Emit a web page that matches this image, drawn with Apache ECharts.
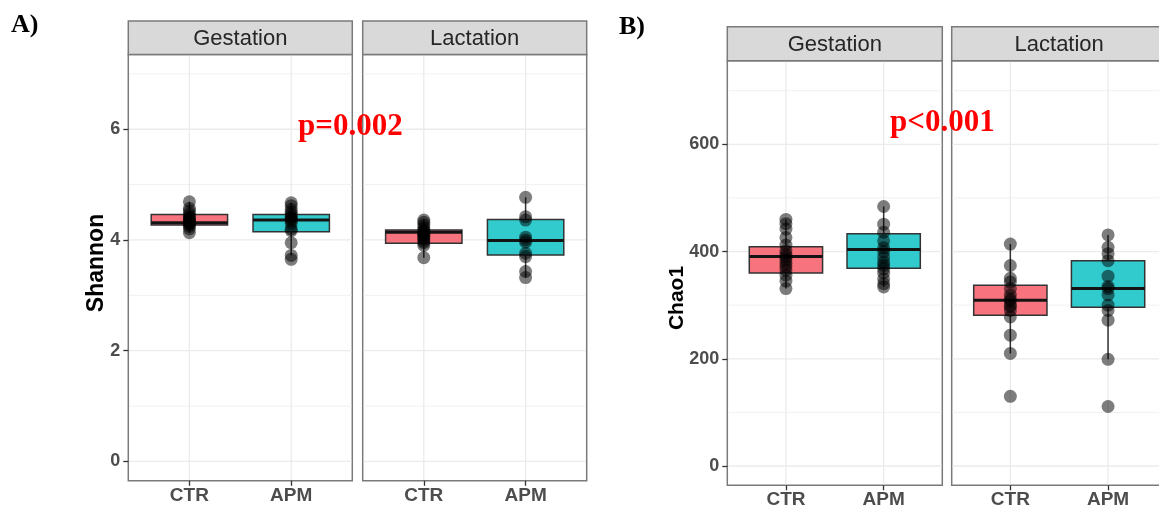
<!DOCTYPE html>
<html>
<head>
<meta charset="utf-8">
<script src="https://cdn.jsdelivr.net/npm/echarts@6/dist/echarts.min.js"></script>
<style>
  html, body { margin: 0; padding: 0; background: #fff; }
  #chart { width: 1159px; height: 508px; }
</style>
</head>
<body>
<div id="chart"></div>
<script>
// Groups on the x axis and the two facets
const groups = ['CTR', 'APM'];
const facets = ['Gestation', 'Lactation'];

// Shannon index, one value per sample
const shannonGestationCTR = [4.69, 4.57, 4.52, 4.47, 4.43, 4.40, 4.38, 4.35, 4.33, 4.31, 4.30, 4.28, 4.25, 4.20, 4.13];
const shannonGestationAPM = [4.67, 4.62, 4.55, 4.50, 4.46, 4.42, 4.40, 4.38, 4.35, 4.30, 4.20, 4.17, 3.95, 3.72, 3.65];
const shannonLactationCTR = [4.36, 4.32, 4.27, 4.22, 4.18, 4.15, 4.13, 4.10, 4.08, 4.05, 4.02, 3.98, 3.95, 3.90, 3.68];
const shannonLactationAPM = [4.77, 4.42, 4.36, 4.05, 4.00, 3.96, 3.76, 3.70, 3.43, 3.32];

// Chao1 richness, one value per sample
const chao1GestationCTR = [460, 452, 442, 426, 412, 402, 395, 390, 385, 378, 372, 365, 356, 345, 331];
const chao1GestationAPM = [484, 451, 436, 420, 407, 400, 389, 380, 374, 368, 360, 349, 340, 334];
const chao1LactationCTR = [414, 374, 350, 343, 331, 319, 312, 308, 300, 297, 290, 278, 244, 210, 130];
const chao1LactationAPM = [431, 408, 396, 383, 354, 335, 331, 319, 300, 290, 272, 199, 111];

// Box summaries [lower whisker, Q1, median, Q3, upper whisker] for CTR and APM
const shannonGestationBoxes = [[4.13, 4.27, 4.31, 4.46, 4.69], [3.72, 4.15, 4.36, 4.46, 4.67]];
const shannonLactationBoxes = [[3.68, 3.94, 4.14, 4.18, 4.36], [3.32, 3.73, 3.99, 4.37, 4.77]];
const chao1GestationBoxes = [[331, 360, 391, 409, 460], [334, 369, 404, 433, 484]];
const chao1LactationBoxes = [[210, 281, 309, 337, 414], [199, 296, 331, 383, 431]];

// Axis ticks (labelled) and minor grid values
const shannonTicks = [0, 2, 4, 6];
const shannonMinor = [1, 3, 5, 7];
const chao1Ticks = [0, 200, 400, 600];
const chao1Minor = [100, 300, 500, 700];

// Annotations
const metricTitles = ['Shannon', 'Chao1'];
const panelTags = ['A)', 'B)'];
const pLabels = ['p=0.002', 'p<0.001'];

// ---- styling and layout ----
const SANS = '"Liberation Sans", Arial, Helvetica, sans-serif';
const SERIF = '"Liberation Serif", "Times New Roman", serif';
const groupColors = ['#F7737E', '#31CBCE'];
const BORDER = '#7a7a7a';
const GRID_MAJOR = '#EBEBEB';
const GRID_MINOR = '#F1F1F1';
const BOX_HALF = 0.375;
const X_MIN = 0.4, X_MAX = 2.6;

const layouts = [
  { lefts: [128.3, 362.7], width: 224, top: 54.5, height: 426.3, stripTop: 21,
    yMin: -0.35, yMax: 7.35, ticks: shannonTicks, minor: shannonMinor,
    titleX: 96.7, titleY: 263, titleSize: 23, tagX: 11, tagY: 25, pX: 298, pY: 127 },
  { lefts: [727.3, 951.7], width: 215, top: 60.7, height: 424.6, stripTop: 26.7,
    yMin: -36, yMax: 756, ticks: chao1Ticks, minor: chao1Minor,
    titleX: 677, titleY: 298, titleSize: 21, tagX: 619, tagY: 27, pX: 890, pY: 123 }
];

const panels = [
  { metric: 0, facet: 0, boxes: shannonGestationBoxes, points: [shannonGestationCTR, shannonGestationAPM] },
  { metric: 0, facet: 1, boxes: shannonLactationBoxes, points: [shannonLactationCTR, shannonLactationAPM] },
  { metric: 1, facet: 0, boxes: chao1GestationBoxes, points: [chao1GestationCTR, chao1GestationAPM] },
  { metric: 1, facet: 1, boxes: chao1LactationBoxes, points: [chao1LactationCTR, chao1LactationAPM] }
];

// Background grid lines: kind 0 = major horizontal, 1 = minor horizontal, 2 = vertical
function renderGridLine(params, api) {
  const kind = api.value(0);
  const v = api.value(1);
  const cs = params.coordSys;
  if (kind === 2) {
    const x = api.coord([v, 0])[0];
    return { type: 'line', shape: { x1: x, y1: cs.y + 0.8, x2: x, y2: cs.y + cs.height - 0.8 },
      style: { stroke: GRID_MAJOR, lineWidth: 1.3 } };
  }
  const y = api.coord([1, v])[1];
  return { type: 'line', shape: { x1: cs.x + 0.8, y1: y, x2: cs.x + cs.width - 0.8, y2: y },
    style: { stroke: kind === 0 ? GRID_MAJOR : GRID_MINOR, lineWidth: kind === 0 ? 1.3 : 1 } };
}

// Box with whiskers and median
function renderBox(params, api) {
  const x = api.value(0);
  const lo = api.coord([x, api.value(1)]);
  const q1 = api.coord([x, api.value(2)]);
  const md = api.coord([x, api.value(3)]);
  const q3 = api.coord([x, api.value(4)]);
  const hi = api.coord([x, api.value(5)]);
  const l = api.coord([x - BOX_HALF, 0])[0];
  const r = api.coord([x + BOX_HALF, 0])[0];
  const fill = groupColors[Math.round(x) - 1];
  const edge = { stroke: '#333', lineWidth: 1.5 };
  return {
    type: 'group',
    children: [
      { type: 'line', shape: { x1: lo[0], y1: lo[1], x2: q1[0], y2: q1[1] }, style: edge },
      { type: 'line', shape: { x1: q3[0], y1: q3[1], x2: hi[0], y2: hi[1] }, style: edge },
      { type: 'rect', shape: { x: l, y: q3[1], width: r - l, height: q1[1] - q3[1] },
        style: { fill: fill, stroke: '#333', lineWidth: 1.5 } },
      { type: 'line', shape: { x1: l, y1: md[1], x2: r, y2: md[1] }, style: { stroke: '#141414', lineWidth: 3 } }
    ]
  };
}

const grids = [], xAxes = [], yAxes = [], series = [], graphics = [];

panels.forEach((p, i) => {
  const L = layouts[p.metric];
  const left = L.lefts[p.facet];
  grids.push({
    left: left, top: L.top, width: L.width, height: L.height,
    show: true, backgroundColor: '#fff', borderColor: BORDER, borderWidth: 1.5,
    containLabel: false, outerBoundsMode: 'none'
  });
  xAxes.push({
    gridIndex: i, type: 'value', min: X_MIN, max: X_MAX,
    axisLine: { show: false, onZero: false },
    axisTick: { show: true, customValues: [1, 2], length: 5, lineStyle: { color: '#333', width: 1.3 } },
    axisLabel: { customValues: [1, 2], formatter: v => groups[Math.round(v) - 1],
      color: '#4D4D4D', fontWeight: 'bold', fontSize: 19, fontFamily: SANS, margin: 5 },
    splitLine: { show: false }
  });
  yAxes.push({
    gridIndex: i, type: 'value', min: L.yMin, max: L.yMax,
    axisLine: { show: false, onZero: false },
    axisTick: { show: p.facet === 0, customValues: L.ticks, length: 5, lineStyle: { color: '#333', width: 1.3 } },
    axisLabel: { show: p.facet === 0, customValues: L.ticks,
      color: '#4D4D4D', fontWeight: 'bold', fontSize: 18, fontFamily: SANS, margin: 8 },
    splitLine: { show: false }
  });

  const lineData = []
    .concat(L.ticks.map(v => [0, v]))
    .concat(L.minor.map(v => [1, v]))
    .concat([1, 2].map(v => [2, v]));
  series.push({
    type: 'custom', xAxisIndex: i, yAxisIndex: i, z: 1, silent: true,
    renderItem: renderGridLine, data: lineData
  });
  series.push({
    type: 'custom', xAxisIndex: i, yAxisIndex: i, z: 2, silent: true,
    renderItem: renderBox, encode: { x: 0, y: [1, 2, 3, 4, 5] },
    data: p.boxes.map((b, g) => [g + 1].concat(b))
  });
  const pts = [];
  p.points.forEach((arr, g) => arr.forEach(v => pts.push([g + 1, v])));
  series.push({
    type: 'scatter', xAxisIndex: i, yAxisIndex: i, z: 3, silent: true,
    symbolSize: 13, itemStyle: { color: 'rgba(0,0,0,0.64)', borderWidth: 0 },
    data: pts
  });

  // facet strip
  graphics.push({
    type: 'rect', z: 10,
    shape: { x: left, y: L.stripTop, width: L.width, height: L.top - L.stripTop },
    style: { fill: '#D9D9D9', stroke: BORDER, lineWidth: 1.5 }
  });
  graphics.push({
    type: 'text', z: 11, x: left + L.width / 2, y: (L.stripTop + L.top) / 2 + 1,
    style: { text: facets[p.facet], fill: '#262626', font: '22px ' + SANS, align: 'center', verticalAlign: 'middle' }
  });
});

layouts.forEach((L, m) => {
  graphics.push({
    type: 'text', z: 12, x: L.titleX, y: L.titleY, rotation: Math.PI / 2,
    style: { text: metricTitles[m], fill: '#000', font: 'bold ' + L.titleSize + 'px ' + SANS, align: 'center', verticalAlign: 'middle' }
  });
  graphics.push({
    type: 'text', z: 12, x: L.tagX, y: L.tagY,
    style: { text: panelTags[m], fill: '#000', font: 'bold 26px ' + SERIF, align: 'left', verticalAlign: 'middle' }
  });
  graphics.push({
    type: 'text', z: 12, x: L.pX, y: L.pY,
    style: { text: pLabels[m], fill: '#FF0000', font: 'bold 31px ' + SERIF, align: 'left', verticalAlign: 'middle' }
  });
});

const chart = echarts.init(document.getElementById('chart'), null, { renderer: 'canvas' });
chart.setOption({
  animation: false,
  backgroundColor: '#fff',
  grid: grids,
  xAxis: xAxes,
  yAxis: yAxes,
  series: series,
  graphic: { elements: graphics }
});
</script>
</body>
</html>
